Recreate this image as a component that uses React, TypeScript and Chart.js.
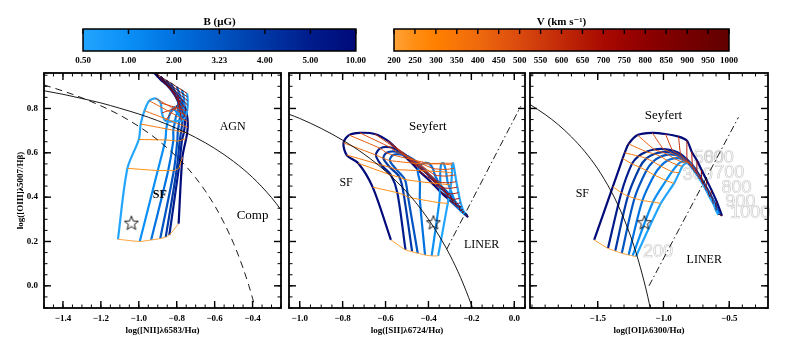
import React, { useEffect, useRef } from 'react';
import { Chart, registerables } from 'chart.js';

// ---------------- data ----------------
const B_LABELS = ['0.50', '1.00', '2.00', '3.23', '4.00', '5.00', '10.00'];
const V_LABELS = ['200', '250', '300', '350', '400', '450', '500', '550', '600', '650', '700', '750', '800', '850', '900', '950', '1000'];
const B_COLORS = ['#22A5FF', '#0A8FF6', '#0072DF', '#0055C2', '#0038A5', '#001C8C', '#000A78'];
const V_COLORS = ['#FFA23A', '#FF8E12', '#FF8000', '#F77508', '#EE6A0C', '#E55A0E', '#DA4A0E', '#CE3A0C', '#C22A08', '#B41A04', '#A80A00', '#9C0400', '#8E0000', '#820000', '#760000', '#6C0000', '#620000'];

const Y_TICKS = [0.0, 0.2, 0.4, 0.6, 0.8];
const NII_X_TICKS = [-1.4, -1.2, -1.0, -0.8, -0.6, -0.4];
const SII_X_TICKS = [-1.0, -0.8, -0.6, -0.4, -0.2, 0.0];
const OI_X_TICKS = [-1.5, -1.0, -0.5];

// [NII] panel: one line per B value, points ordered by V (200..1000)
const NII_B050 = [[-1.11, 0.21], [-1.06, 0.53], [-1.0, 0.66], [-0.99, 0.73], [-0.97, 0.79], [-0.945, 0.835], [-0.91, 0.845], [-0.885, 0.825], [-0.878, 0.78], [-0.86, 0.745], [-0.775, 0.745], [-0.755, 0.76], [-0.745, 0.79], [-0.742, 0.815], [-0.742, 0.835], [-0.743, 0.852], [-0.745, 0.868]];
const NII_B1 = [[-0.995, 0.20], [-0.90, 0.52], [-0.86, 0.658], [-0.855, 0.708], [-0.845, 0.749], [-0.833, 0.783], [-0.819, 0.801], [-0.811, 0.806], [-0.813, 0.799], [-0.813, 0.797], [-0.778, 0.762], [-0.765, 0.778], [-0.76, 0.806], [-0.76, 0.83], [-0.763, 0.849], [-0.767, 0.866], [-0.772, 0.883]];
const NII_B2 = [[-0.935, 0.207], [-0.845, 0.52], [-0.818, 0.655], [-0.818, 0.702], [-0.81, 0.737], [-0.803, 0.768], [-0.794, 0.789], [-0.79, 0.80], [-0.795, 0.804], [-0.80, 0.811], [-0.781, 0.779], [-0.774, 0.796], [-0.775, 0.823], [-0.779, 0.845], [-0.785, 0.863], [-0.792, 0.881], [-0.799, 0.897]];
const NII_B323 = [[-0.887, 0.213], [-0.815, 0.52], [-0.797, 0.653], [-0.794, 0.698], [-0.788, 0.73], [-0.783, 0.759], [-0.778, 0.781], [-0.777, 0.797], [-0.784, 0.808], [-0.792, 0.821], [-0.785, 0.80], [-0.786, 0.818], [-0.793, 0.843], [-0.801, 0.863], [-0.811, 0.881], [-0.821, 0.898], [-0.831, 0.915]];
const NII_B4 = [[-0.858, 0.22], [-0.80, 0.525], [-0.784, 0.655], [-0.777, 0.695], [-0.772, 0.725], [-0.768, 0.752], [-0.766, 0.775], [-0.767, 0.794], [-0.775, 0.81], [-0.786, 0.827], [-0.787, 0.816], [-0.795, 0.834], [-0.807, 0.858], [-0.818, 0.877], [-0.831, 0.894], [-0.843, 0.912], [-0.857, 0.928]];
const NII_B5 = [[-0.839, 0.229], [-0.789, 0.53], [-0.772, 0.658], [-0.762, 0.693], [-0.758, 0.72], [-0.756, 0.747], [-0.757, 0.771], [-0.759, 0.792], [-0.768, 0.812], [-0.781, 0.833], [-0.791, 0.835], [-0.806, 0.854], [-0.823, 0.876], [-0.838, 0.893], [-0.854, 0.909], [-0.869, 0.927], [-0.885, 0.944]];
const NII_B10 = [[-0.79, 0.28], [-0.77, 0.58], [-0.75, 0.665], [-0.745, 0.69], [-0.742, 0.715], [-0.742, 0.74], [-0.745, 0.765], [-0.75, 0.79], [-0.76, 0.815], [-0.775, 0.84], [-0.795, 0.86], [-0.82, 0.88], [-0.845, 0.90], [-0.865, 0.915], [-0.885, 0.93], [-0.905, 0.948], [-0.925, 0.965]];

// [SII] panel
const SII_B050 = [[-0.355, 0.135], [-0.31, 0.372], [-0.295, 0.455], [-0.29, 0.51], [-0.29, 0.545], [-0.285, 0.553], [-0.28, 0.53], [-0.275, 0.50], [-0.27, 0.47], [-0.265, 0.445], [-0.26, 0.42], [-0.255, 0.395], [-0.25, 0.375], [-0.245, 0.36], [-0.24, 0.345], [-0.235, 0.333], [-0.23, 0.325]];
const SII_B1 = [[-0.385, 0.135], [-0.35, 0.375], [-0.345, 0.46], [-0.345, 0.515], [-0.34, 0.55], [-0.33, 0.553], [-0.32, 0.525], [-0.315, 0.495], [-0.31, 0.465], [-0.30, 0.44], [-0.29, 0.415], [-0.28, 0.39], [-0.27, 0.37], [-0.26, 0.355], [-0.25, 0.34], [-0.24, 0.33], [-0.23, 0.322]];
const SII_B2 = [[-0.416, 0.139], [-0.44, 0.39], [-0.44, 0.47], [-0.45, 0.52], [-0.43, 0.55], [-0.40, 0.553], [-0.38, 0.53], [-0.37, 0.50], [-0.355, 0.47], [-0.34, 0.445], [-0.32, 0.42], [-0.30, 0.395], [-0.285, 0.375], [-0.27, 0.36], [-0.255, 0.345], [-0.242, 0.332], [-0.228, 0.322]];
const SII_B323 = [[-0.45, 0.147], [-0.495, 0.40], [-0.51, 0.48], [-0.55, 0.525], [-0.58, 0.565], [-0.565, 0.59], [-0.52, 0.592], [-0.47, 0.57], [-0.43, 0.535], [-0.395, 0.50], [-0.36, 0.47], [-0.33, 0.44], [-0.30, 0.41], [-0.275, 0.38], [-0.255, 0.355], [-0.237, 0.335], [-0.222, 0.32]];
const SII_B4 = [[-0.476, 0.154], [-0.515, 0.41], [-0.535, 0.49], [-0.58, 0.535], [-0.61, 0.575], [-0.595, 0.60], [-0.55, 0.605], [-0.50, 0.585], [-0.455, 0.55], [-0.415, 0.515], [-0.38, 0.48], [-0.345, 0.45], [-0.315, 0.415], [-0.285, 0.385], [-0.26, 0.36], [-0.24, 0.335], [-0.22, 0.318]];
const SII_B5 = [[-0.507, 0.162], [-0.545, 0.42], [-0.575, 0.50], [-0.62, 0.545], [-0.645, 0.59], [-0.625, 0.62], [-0.58, 0.625], [-0.53, 0.605], [-0.48, 0.57], [-0.44, 0.535], [-0.40, 0.50], [-0.365, 0.465], [-0.33, 0.43], [-0.30, 0.395], [-0.27, 0.365], [-0.245, 0.34], [-0.22, 0.315]];
const SII_B10 = [[-0.575, 0.207], [-0.66, 0.445], [-0.727, 0.553], [-0.781, 0.59], [-0.796, 0.645], [-0.77, 0.68], [-0.72, 0.69], [-0.65, 0.685], [-0.59, 0.655], [-0.54, 0.61], [-0.49, 0.565], [-0.44, 0.515], [-0.39, 0.47], [-0.345, 0.425], [-0.30, 0.385], [-0.255, 0.345], [-0.215, 0.31]];

// [OI] panel
const OI_B050 = [[-1.21, 0.132], [-1.02, 0.372], [-0.92, 0.462], [-0.88, 0.51], [-0.855, 0.54], [-0.83, 0.553], [-0.805, 0.555], [-0.785, 0.545], [-0.765, 0.525], [-0.745, 0.505], [-0.722, 0.482], [-0.698, 0.457], [-0.673, 0.43], [-0.648, 0.40], [-0.62, 0.37], [-0.60, 0.34], [-0.582, 0.32]];
const OI_B1 = [[-1.235, 0.135], [-1.08, 0.378], [-0.98, 0.475], [-0.935, 0.515], [-0.895, 0.545], [-0.865, 0.56], [-0.835, 0.562], [-0.805, 0.552], [-0.78, 0.533], [-0.755, 0.51], [-0.73, 0.488], [-0.703, 0.463], [-0.677, 0.435], [-0.65, 0.405], [-0.622, 0.375], [-0.60, 0.345], [-0.58, 0.322]];
const OI_B2 = [[-1.265, 0.139], [-1.16, 0.385], [-1.07, 0.50], [-1.02, 0.54], [-0.97, 0.565], [-0.92, 0.575], [-0.875, 0.575], [-0.835, 0.563], [-0.80, 0.545], [-0.77, 0.523], [-0.74, 0.498], [-0.71, 0.473], [-0.682, 0.444], [-0.655, 0.414], [-0.625, 0.382], [-0.60, 0.35], [-0.578, 0.322]];
const OI_B323 = [[-1.317, 0.147], [-1.22, 0.395], [-1.13, 0.52], [-1.08, 0.56], [-1.02, 0.583], [-0.965, 0.592], [-0.91, 0.59], [-0.86, 0.58], [-0.82, 0.562], [-0.785, 0.54], [-0.752, 0.515], [-0.72, 0.487], [-0.69, 0.456], [-0.66, 0.423], [-0.628, 0.39], [-0.60, 0.355], [-0.575, 0.322]];
const OI_B4 = [[-1.367, 0.157], [-1.27, 0.405], [-1.18, 0.535], [-1.13, 0.575], [-1.07, 0.595], [-1.01, 0.603], [-0.95, 0.603], [-0.89, 0.595], [-0.845, 0.578], [-0.80, 0.555], [-0.765, 0.53], [-0.73, 0.50], [-0.70, 0.468], [-0.665, 0.435], [-0.632, 0.398], [-0.60, 0.36], [-0.572, 0.322]];
const OI_B5 = [[-1.422, 0.169], [-1.32, 0.42], [-1.24, 0.55], [-1.19, 0.585], [-1.13, 0.605], [-1.07, 0.615], [-1.0, 0.617], [-0.93, 0.61], [-0.87, 0.595], [-0.82, 0.57], [-0.78, 0.545], [-0.745, 0.515], [-0.71, 0.482], [-0.675, 0.445], [-0.64, 0.405], [-0.605, 0.365], [-0.57, 0.32]];
const OI_B10 = [[-1.527, 0.207], [-1.385, 0.447], [-1.31, 0.575], [-1.295, 0.60], [-1.265, 0.64], [-1.197, 0.68], [-1.085, 0.69], [-0.985, 0.685], [-0.885, 0.673], [-0.822, 0.655], [-0.785, 0.605], [-0.745, 0.565], [-0.71, 0.522], [-0.672, 0.477], [-0.635, 0.432], [-0.595, 0.38], [-0.555, 0.315]];

// demarcation curves (sampled)
const NII_KEWLEY = [[-1.5, 0.880], [-1.4, 0.864], [-1.3, 0.845], [-1.2, 0.825], [-1.1, 0.801], [-1.0, 0.775], [-0.9, 0.745], [-0.8, 0.710], [-0.7, 0.669], [-0.6, 0.620], [-0.5, 0.561], [-0.4, 0.489], [-0.3, 0.398], [-0.25, 0.343]];
const NII_KAUFFMANN = [[-1.5, 0.906], [-1.4, 0.879], [-1.3, 0.848], [-1.2, 0.812], [-1.1, 0.770], [-1.0, 0.719], [-0.9, 0.658], [-0.8, 0.582], [-0.75, 0.538], [-0.7, 0.487], [-0.65, 0.429], [-0.6, 0.362], [-0.55, 0.283], [-0.5, 0.191], [-0.45, 0.080], [-0.42, 0.002], [-0.4, -0.056], [-0.38, -0.119]];
const SII_KEWLEY = [[-1.05, 0.774], [-1.0, 0.755], [-0.9, 0.710], [-0.8, 0.657], [-0.7, 0.594], [-0.6, 0.517], [-0.5, 0.422], [-0.45, 0.365], [-0.4, 0.300], [-0.35, 0.225], [-0.3, 0.139], [-0.25, 0.037], [-0.2, -0.085], [-0.19, -0.112]];
const SII_LINER = [[-0.315, 0.165], [0.03, 0.81]];
const OI_KEWLEY = [[-2.015, 0.818], [-1.9, 0.773], [-1.8, 0.727], [-1.7, 0.672], [-1.6, 0.607], [-1.5, 0.528], [-1.4, 0.429], [-1.35, 0.370], [-1.3, 0.302], [-1.25, 0.224], [-1.2, 0.133], [-1.15, 0.026], [-1.12, -0.047], [-1.095, -0.116]];
const OI_LINER = [[-1.11, 0.0], [-0.43, 0.76]];

const NII_STAR = [-1.039, 0.285];
const SII_STAR = [-0.377, 0.287];
const OI_STAR = [-1.145, 0.287];

const SERIF = '"Liberation Serif", "DejaVu Serif", serif';

const NII_NOTES = [
  { text: 'AGN', x: -0.505, y: 0.718, font: `12px ${SERIF}` },
  { text: 'Comp', x: -0.40, y: 0.315, font: `13px ${SERIF}` },
  { text: 'SF', x: -0.889, y: 0.41, font: `bold 12px ${SERIF}` },
];
const SII_NOTES = [
  { text: 'Seyfert', x: -0.403, y: 0.718, font: `13px ${SERIF}` },
  { text: 'SF', x: -0.784, y: 0.465, font: `12px ${SERIF}` },
  { text: 'LINER', x: -0.152, y: 0.187, font: `12px ${SERIF}` },
];
const OI_NOTES = [
  { text: 'Seyfert', x: -1.0, y: 0.766, font: `13px ${SERIF}` },
  { text: 'SF', x: -1.617, y: 0.417, font: `12px ${SERIF}` },
  { text: 'LINER', x: -0.69, y: 0.117, font: `12px ${SERIF}` },
];
const OI_VEL_LABELS = [
  { text: '200', x: -1.041, y: 0.154 },
  { text: '300', x: -0.74, y: 0.50 },
  { text: '500', x: -0.656, y: 0.578 },
  { text: '600', x: -0.58, y: 0.578 },
  { text: '700', x: -0.50, y: 0.508 },
  { text: '800', x: -0.445, y: 0.443 },
  { text: '900', x: -0.415, y: 0.378 },
  { text: '1000', x: -0.34, y: 0.33 },
];

// ---------------- plugins ----------------
const framePlugin: any = {
  id: 'frame',
  afterDatasetsDraw(chart: any, _a: any, o: any) {
    if (!o || !o.show) return;
    const { ctx, chartArea: a } = chart;
    const xs = chart.scales.x;
    const ys = chart.scales.y;
    const line = (x1: number, y1: number, x2: number, y2: number) => {
      ctx.beginPath(); ctx.moveTo(x1, y1); ctx.lineTo(x2, y2); ctx.stroke();
    };
    const minors = (s: any, step: number) => {
      const out: number[] = [];
      if (!step) return out;
      const k0 = Math.ceil(s.min / step - 1e-6);
      const k1 = Math.floor(s.max / step + 1e-6);
      for (let k = k0; k <= k1; k++) out.push(k * step);
      return out;
    };
    ctx.save();
    ctx.strokeStyle = '#000';
    const doX = (vals: number[], len: number) => vals.forEach((v) => {
      const p = xs.getPixelForValue(v);
      if (p < a.left - 0.5 || p > a.right + 0.5) return;
      if (o.xBottom) line(p, a.bottom, p, a.bottom - len);
      if (o.xTop) line(p, a.top, p, a.top + len);
    });
    const doY = (vals: number[], len: number) => vals.forEach((v) => {
      const p = ys.getPixelForValue(v);
      if (p < a.top - 0.5 || p > a.bottom + 0.5) return;
      if (o.yLeft) line(a.left, p, a.left + len, p);
      if (o.yRight) line(a.right, p, a.right - len, p);
    });
    ctx.lineWidth = 1;
    doX(minors(xs, o.xMinor), o.minorLen);
    if (o.yLeft || o.yRight) doY(minors(ys, o.yMinor), o.minorLen);
    ctx.lineWidth = 1.4;
    doX(xs.ticks.map((t: any) => t.value), o.majorLen);
    if (o.yLeft || o.yRight) doY(ys.ticks.map((t: any) => t.value), o.majorLen);
    ctx.lineWidth = o.border;
    ctx.strokeRect(a.left, a.top, a.right - a.left, a.bottom - a.top);
    ctx.restore();
  },
};

function drawNotes(chart: any, items: any[]) {
  if (!items) return;
  const { ctx } = chart;
  const xs = chart.scales.x;
  const ys = chart.scales.y;
  ctx.save();
  ctx.textAlign = 'center';
  ctx.textBaseline = 'middle';
  items.forEach((it) => {
    ctx.font = it.font;
    const px = xs.getPixelForValue(it.x);
    const py = ys.getPixelForValue(it.y);
    if (it.stroke) {
      ctx.strokeStyle = it.color; ctx.lineWidth = 0.7; ctx.strokeText(it.text, px, py);
    } else {
      ctx.fillStyle = it.color; ctx.fillText(it.text, px, py);
    }
  });
  ctx.restore();
}

const notesPlugin: any = {
  id: 'notes',
  beforeDatasetsDraw(chart: any, _a: any, o: any) { if (o) drawNotes(chart, o.under); },
  afterDatasetsDraw(chart: any, _a: any, o: any) { if (o) drawNotes(chart, o.over); },
};

Chart.register(...registerables, framePlugin, notesPlugin);

// ---------------- builders ----------------
const fmt = (v: number) => (v < -1e-9 ? '\u2212' : '') + Math.abs(v).toFixed(1);
const xy = (pts: number[][]) => pts.map((p) => ({ x: p[0], y: p[1] }));

function makeStar() {
  const c = document.createElement('canvas');
  c.width = 18; c.height = 18;
  const g = c.getContext('2d') as CanvasRenderingContext2D;
  g.strokeStyle = '#000';
  g.lineWidth = 0.9;
  g.beginPath();
  for (let k = 0; k < 10; k++) {
    const r = k % 2 === 0 ? 7.4 : 3.1;
    const ang = -Math.PI / 2 + (k * Math.PI) / 5;
    const px = 9 + r * Math.cos(ang);
    const py = 9.8 + r * Math.sin(ang);
    if (k === 0) g.moveTo(px, py); else g.lineTo(px, py);
  }
  g.closePath();
  g.stroke();
  return c;
}

function gridDatasets(grid: number[][][]) {
  const ds: any[] = [];
  V_LABELS.forEach((_, j) => {
    ds.push({
      data: grid.map((row) => ({ x: row[j][0], y: row[j][1] })),
      showLine: true, borderColor: V_COLORS[j], borderWidth: 1, pointRadius: 0, tension: 0.2, order: 1,
    });
  });
  grid.forEach((row, i) => {
    ds.push({
      data: xy(row), showLine: true, borderColor: B_COLORS[i], borderWidth: 2.2, pointRadius: 0, tension: 0.3, order: 2,
    });
  });
  return ds;
}

function panelConfig(p: any) {
  const tickFont = { family: SERIF, size: 9, weight: 'bold' as const };
  const datasets: any[] = [
    ...p.refs.map((r: any) => ({
      data: xy(r.pts), showLine: true, borderColor: '#000', borderWidth: 0.9, pointRadius: 0,
      borderDash: r.dash || [], cubicInterpolationMode: 'monotone', order: 0,
    })),
    { data: [{ x: p.star[0], y: p.star[1] }], pointStyle: p.starImg, pointRadius: 8, showLine: false, order: 0 },
    ...gridDatasets(p.grid),
  ];
  return {
    type: 'scatter',
    data: { datasets },
    options: {
      animation: false, responsive: false, devicePixelRatio: 1, events: [],
      layout: { padding: p.pad },
      plugins: {
        legend: { display: false }, tooltip: { enabled: false },
        frame: { show: true, border: 1.8, xTop: true, xBottom: true, yLeft: true, yRight: true, majorLen: 7, minorLen: 3.5, xMinor: p.xMinor, yMinor: 0.05 },
        notes: {
          over: p.notes.map((n: any) => ({ ...n, color: '#000' })),
          under: (p.under || []).map((n: any) => ({ ...n, color: '#cdcdcd', stroke: true, font: `18px "Liberation Sans", sans-serif` })),
        },
      },
      scales: {
        x: {
          type: 'linear', min: p.xMin, max: p.xMax,
          afterBuildTicks: (s: any) => { s.ticks = p.xTicks.map((v: number) => ({ value: v })); },
          ticks: { callback: (v: any) => fmt(Number(v)), font: tickFont, color: '#000', padding: 5, maxRotation: 0, autoSkip: false },
          grid: { display: false, drawTicks: false },
          border: { display: false },
          title: { display: true, text: p.xTitle, color: '#000', font: tickFont, padding: { top: 0, bottom: 12 } },
          afterFit: (s: any) => { s.height = 40; },
        },
        y: {
          type: 'linear', min: -0.1, max: 0.96, display: p.yLabels,
          afterBuildTicks: (s: any) => { s.ticks = Y_TICKS.map((v) => ({ value: v })); },
          ticks: { callback: (v: any) => fmt(Number(v)), font: tickFont, color: '#000', padding: 6, autoSkip: false },
          grid: { display: false, drawTicks: false },
          border: { display: false },
          title: { display: p.yLabels, text: 'log([OIII]\u03bb5007/H\u03b2)', color: '#000', font: tickFont, padding: { top: 15, bottom: 0 } },
          afterFit: (s: any) => { s.width = p.yLabels ? 44 : 0; },
        },
      },
    },
  };
}

function colorbarConfig(labels: string[], colors: string[], title: string, padL: number, padR: number) {
  const n = labels.length - 1;
  return {
    type: 'bar',
    data: {
      labels: [''],
      datasets: [{
        data: [[0, n]],
        backgroundColor: (c: any) => {
          const ch = c.chart;
          const a = ch.chartArea;
          if (!a) return 'rgba(0,0,0,0)';
          const g = ch.ctx.createLinearGradient(a.left, 0, a.right, 0);
          colors.forEach((col, i) => g.addColorStop(i / (colors.length - 1), col));
          return g;
        },
        borderWidth: 0, barPercentage: 1, categoryPercentage: 1,
      }],
    },
    options: {
      indexAxis: 'y', animation: false, responsive: false, devicePixelRatio: 1, events: [],
      layout: { padding: { left: padL, right: padR, top: 0, bottom: 5 } },
      plugins: {
        legend: { display: false }, tooltip: { enabled: false },
        title: { display: true, text: title, color: '#000', font: { family: SERIF, size: 11, weight: 'bold' }, padding: { top: 15.4, bottom: 0.4 } },
        frame: { show: true, border: 1.5, xTop: true, xBottom: false, yLeft: false, yRight: false, majorLen: 5, minorLen: 0, xMinor: 0, yMinor: 0 },
      },
      scales: {
        x: {
          type: 'linear', min: 0, max: n,
          afterBuildTicks: (s: any) => { s.ticks = labels.map((_, i) => ({ value: i })); },
          ticks: { callback: (_v: any, i: number) => labels[i], font: { family: SERIF, size: 9, weight: 'bold' }, color: '#000', padding: 4, maxRotation: 0, autoSkip: false },
          grid: { display: false, drawTicks: false },
          border: { display: false },
          afterFit: (s: any) => { s.height = 16; },
        },
        y: { display: false },
      },
    },
  };
}

function ChartCanvas({ left, top, width, height, make }: any) {
  const ref = useRef<HTMLCanvasElement | null>(null);
  useEffect(() => {
    const chart = new Chart(ref.current as HTMLCanvasElement, make());
    return () => chart.destroy();
  }, []);
  return <canvas ref={ref} width={width} height={height} style={{ position: 'absolute', left, top, width, height }} />;
}

export default function App() {
  const makeNII = () => panelConfig({
    grid: [NII_B050, NII_B1, NII_B2, NII_B323, NII_B4, NII_B5, NII_B10],
    refs: [{ pts: NII_KEWLEY }, { pts: NII_KAUFFMANN, dash: [7, 5] }],
    star: NII_STAR, starImg: makeStar(),
    xMin: -1.5, xMax: -0.25, xTicks: NII_X_TICKS, xMinor: 0.05,
    xTitle: 'log([NII]\u03bb6583/H\u03b1)', yLabels: true,
    pad: { left: 0, right: 4, top: 13, bottom: 5 },
    notes: NII_NOTES,
  });
  const makeSII = () => panelConfig({
    grid: [SII_B050, SII_B1, SII_B2, SII_B323, SII_B4, SII_B5, SII_B10],
    refs: [{ pts: SII_KEWLEY }, { pts: SII_LINER, dash: [7, 3, 1.5, 3] }],
    star: SII_STAR, starImg: makeStar(),
    xMin: -1.05, xMax: 0.05, xTicks: SII_X_TICKS, xMinor: 0.05,
    xTitle: 'log([SII]\u03bb6724/H\u03b1)', yLabels: false,
    pad: { left: 6, right: 7, top: 13, bottom: 5 },
    notes: SII_NOTES,
  });
  const makeOI = () => panelConfig({
    grid: [OI_B050, OI_B1, OI_B2, OI_B323, OI_B4, OI_B5, OI_B10],
    refs: [{ pts: OI_KEWLEY }, { pts: OI_LINER, dash: [7, 3, 1.5, 3] }],
    star: OI_STAR, starImg: makeStar(),
    xMin: -2.015, xMax: -0.205, xTicks: OI_X_TICKS, xMinor: 0.1,
    xTitle: 'log([OI]\u03bb6300/H\u03b1)', yLabels: false,
    pad: { left: 6, right: 18, top: 13, bottom: 5 },
    notes: OI_NOTES, under: OI_VEL_LABELS,
  });
  return (
    <div style={{ position: 'absolute', left: 0, top: 0, width: 786, height: 353, background: '#fff', overflow: 'hidden' }}>
      <ChartCanvas left={60} top={0} width={310} height={72} make={() => colorbarConfig(B_LABELS, B_COLORS, 'B (\u03bcG)', 23, 14)} />
      <ChartCanvas left={380} top={0} width={370} height={72} make={() => colorbarConfig(V_LABELS, V_COLORS, 'V (km s\u207b\u00b9)', 14, 21)} />
      <ChartCanvas left={0} top={60} width={290} height={293} make={makeNII} />
      <ChartCanvas left={280} top={60} width={254} height={293} make={makeSII} />
      <ChartCanvas left={521} top={60} width={265} height={293} make={makeOI} />
    </div>
  );
}
